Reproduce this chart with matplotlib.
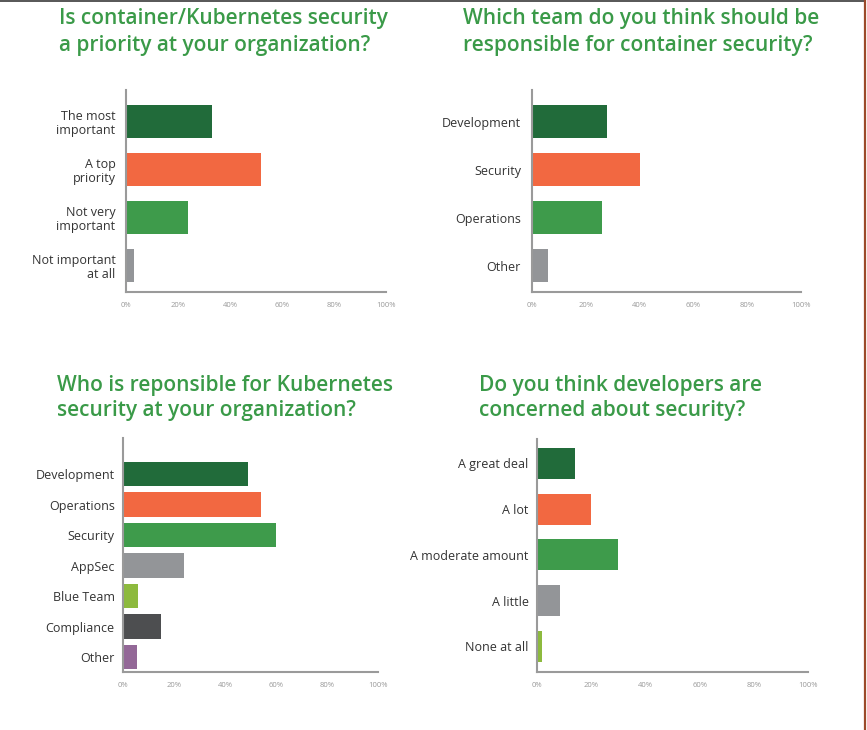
import matplotlib as mpl
mpl.use('Agg')
import matplotlib.pyplot as plt
from matplotlib.lines import Line2D

# survey answers (percent)
q1_labels = ['The most\nimportant', 'A top\npriority', 'Not very\nimportant', 'Not important\nat all']
q1_values = [33, 52, 24, 3]

q2_labels = ['Development', 'Security', 'Operations', 'Other']
q2_values = [28, 40, 26, 6]

q3_labels = ['Development', 'Operations', 'Security', 'AppSec', 'Blue Team', 'Compliance', 'Other']
q3_values = [49, 54, 60, 24, 6, 15, 5.5]

q4_labels = ['A great deal', 'A lot', 'A moderate amount', 'A little', 'None at all']
q4_values = [14, 20, 30, 8.5, 2]

tick_labels = ['0%', '20%', '40%', '60%', '80%', '100%']

titles = ['Is container/Kubernetes security\na priority at your organization?',
          'Which team do you think should be\nresponsible for container security?',
          'Who is reponsible for Kubernetes\nsecurity at your organization?',
          'Do you think developers are\nconcerned about security?']

palette = ['#216b3a', '#f26841', '#3e9b4b', '#939598', '#8dba3e', '#4d4e50', '#936897']

plt.rcParams['font.family'] = ['Open Sans', 'DejaVu Sans']

W, H = 867.0, 730.0
fig = plt.figure(figsize=(W / 100, H / 100), dpi=100)


def box(x0, x1, ytop, ybot):
    return [x0 / W, 1 - ybot / H, (x1 - x0) / W, (ybot - ytop) / H]


def bar_panel(rect, labels, values, ylim, height, pad):
    ax = fig.add_axes(rect)
    pos = range(len(labels))
    ax.barh(pos, values, height=height, color=palette[:len(labels)])
    ax.set_xlim(0, 100)
    ax.set_ylim(*ylim)
    ax.set_yticks(list(pos))
    ax.set_yticklabels(labels, fontsize=9, color='#333333', linespacing=1.1)
    ax.set_xticks([0, 20, 40, 60, 80, 100])
    ax.set_xticklabels(tick_labels, fontsize=5.5, color='#999999')
    ax.tick_params(axis='y', length=0, pad=pad)
    ax.tick_params(axis='x', length=0, pad=7)
    for s in ['top', 'right']:
        ax.spines[s].set_visible(False)
    for s in ['left', 'bottom']:
        ax.spines[s].set_color('#9a9a9a')
        ax.spines[s].set_linewidth(1.5)
    return ax


bar_panel(box(126, 386, 90, 292), q1_labels, q1_values, (3.55, -0.66), 0.69, 7.5)
bar_panel(box(532, 801, 90, 292), q2_labels, q2_values, (3.55, -0.66), 0.69, 8)
bar_panel(box(123, 378, 438, 672), q3_labels, q3_values, (6.49, -1.18), 0.79, 6)
bar_panel(box(537, 808, 439, 672), q4_labels, q4_values, (4.56, -0.535), 0.68, 6)

title_pos = [(59, 32), (463, 32), (57, 398), (479, 398)]
title_size = [15, 15, 15, 15]
title_space = [1.35, 1.35, 1.25, 1.25]
for t, (x, y), fs, ls in zip(titles, title_pos, title_size, title_space):
    fig.text(x / W, 1 - y / H, t, fontsize=fs, fontweight='semibold',
             color='#3a9a48', ha='left', va='center', linespacing=ls)

# page frame edges
fig.add_artist(Line2D([0, 865 / W], [1 - 0.5 / H, 1 - 0.5 / H], color='#3a3a3a', lw=1.2))
fig.add_artist(Line2D([865 / W, 865 / W], [0, 1], color='#9b4a2a', lw=1.6))

fig.savefig('out.png', dpi=100)
